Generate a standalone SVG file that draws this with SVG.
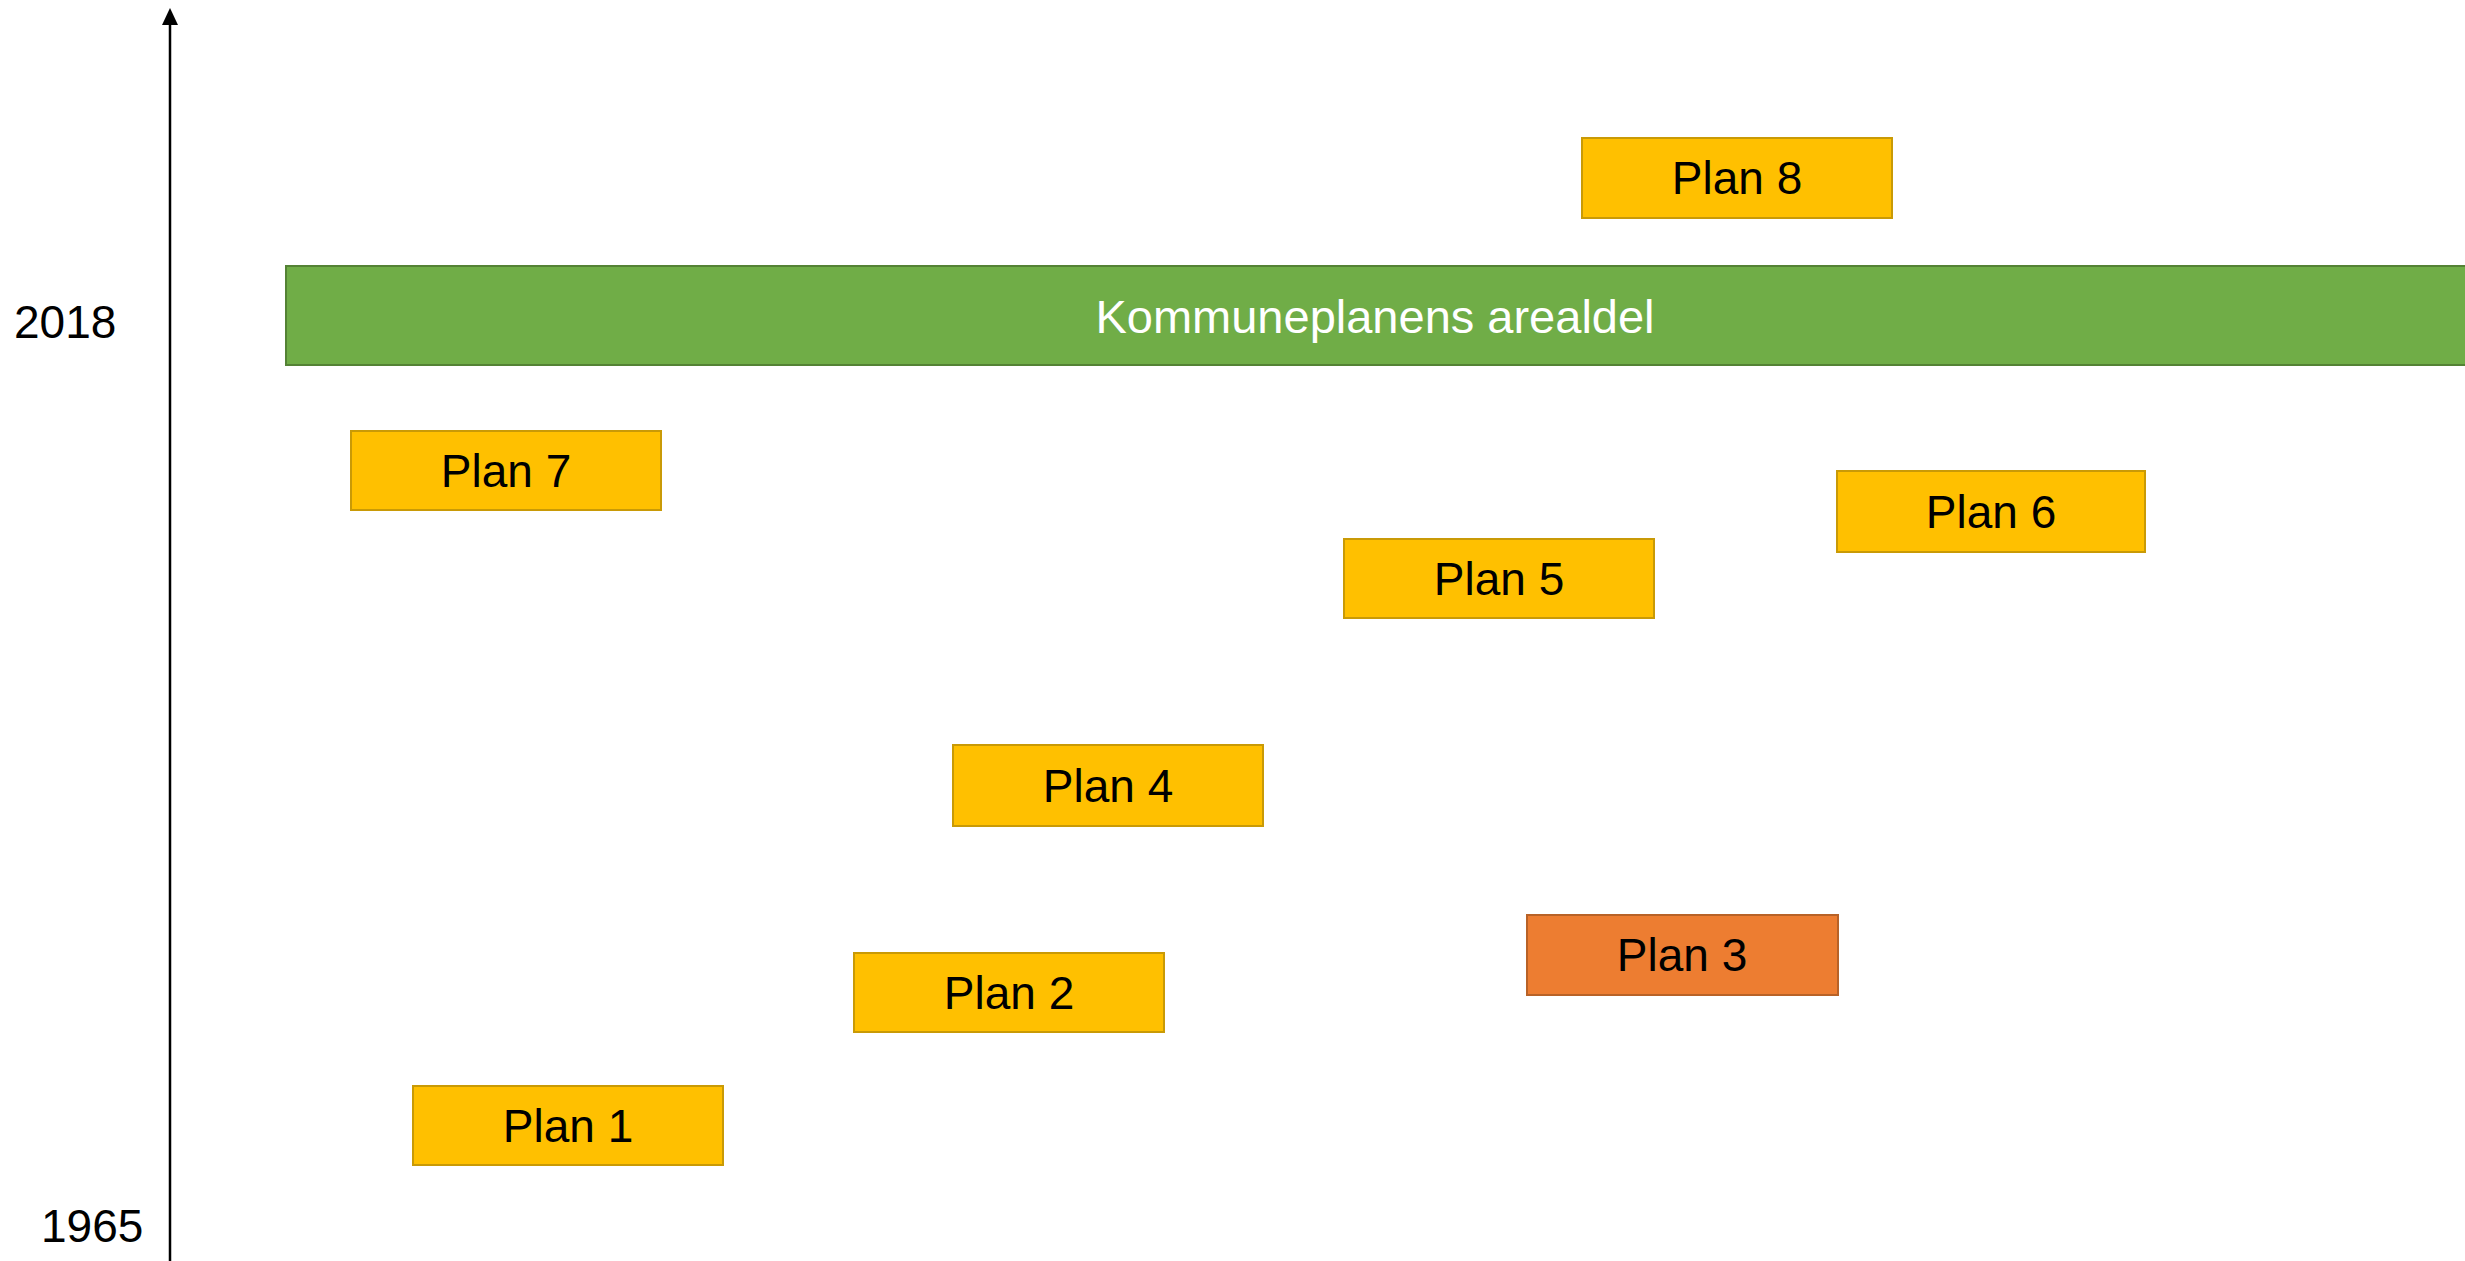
<svg xmlns="http://www.w3.org/2000/svg" width="2465" height="1261" viewBox="0 0 2465 1261">
<style>
.plan{fill:#FFC000;stroke:#C99A06;stroke-width:2}
.plan3{fill:#ED7D31;stroke:#B86227;stroke-width:2}
.bar{fill:#70AD47;stroke:#548235;stroke-width:2}
.lbl{font-family:"Liberation Sans",Arial,sans-serif;font-size:46px;fill:#000;text-anchor:middle}
.yr{font-family:"Liberation Sans",Arial,sans-serif;font-size:46px;fill:#000}
.wl{font-family:"Liberation Sans",Arial,sans-serif;font-size:47px;fill:#fff;text-anchor:middle}
</style>
<rect width="2465" height="1261" fill="#fff"/>
<g id="connectors">
<line x1="170" y1="1261" x2="170" y2="24" stroke="#000" stroke-width="2.5"/>
<path d="M162,25 L170,8 L178,25 Z" fill="#000"/>
</g>
<g id="year-2018"><text class="yr" x="14" y="338">2018</text></g>
<g id="year-1965"><text class="yr" x="41" y="1242">1965</text></g>
<g id="kommuneplan"><rect class="bar" x="286" y="266" width="2190" height="99"/><text class="wl" x="1375" y="333">Kommuneplanens arealdel</text></g>
<g id="plan8"><rect class="plan" x="1582" y="138" width="310" height="80"/><text class="lbl" x="1737" y="194">Plan 8</text></g>
<g id="plan7"><rect class="plan" x="351" y="431" width="310" height="79"/><text class="lbl" x="506" y="487">Plan 7</text></g>
<g id="plan6"><rect class="plan" x="1837" y="471" width="308" height="81"/><text class="lbl" x="1991" y="528">Plan 6</text></g>
<g id="plan5"><rect class="plan" x="1344" y="539" width="310" height="79"/><text class="lbl" x="1499" y="595">Plan 5</text></g>
<g id="plan4"><rect class="plan" x="953" y="745" width="310" height="81"/><text class="lbl" x="1108" y="802">Plan 4</text></g>
<g id="plan3"><rect class="plan3" x="1527" y="915" width="311" height="80"/><text class="lbl" x="1682" y="971">Plan 3</text></g>
<g id="plan2"><rect class="plan" x="854" y="953" width="310" height="79"/><text class="lbl" x="1009" y="1009">Plan 2</text></g>
<g id="plan1"><rect class="plan" x="413" y="1086" width="310" height="79"/><text class="lbl" x="568" y="1142">Plan 1</text></g>
</svg>
